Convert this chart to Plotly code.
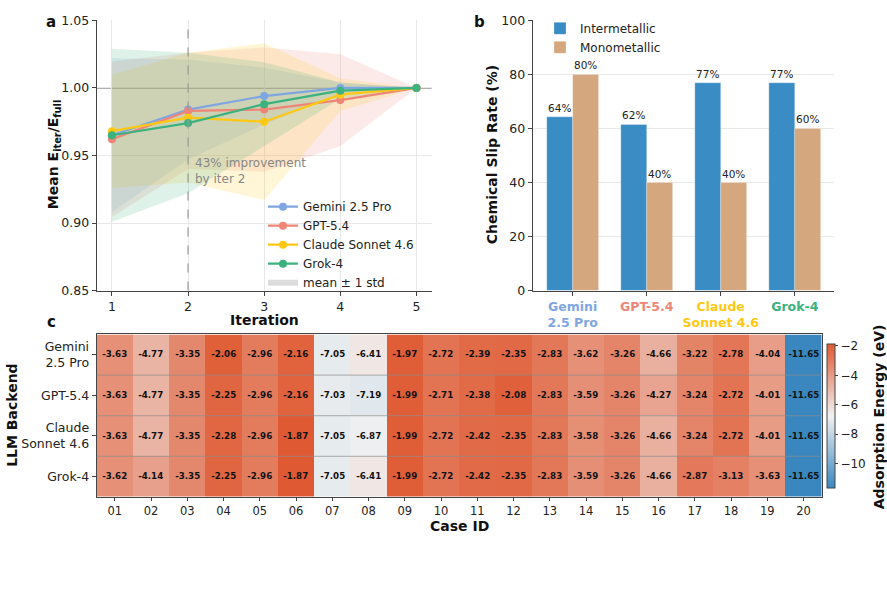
import plotly.graph_objects as go

# ---------------- data ----------------
iterations = [1, 2, 3, 4, 5]
models = ["Gemini 2.5 Pro", "GPT-5.4", "Claude Sonnet 4.6", "Grok-4"]
model_colors = ["#7FA6E2", "#EE8577", "#FFC812", "#3BB27F"]
mean_gemini = [0.965, 0.984, 0.994, 1.000, 1.000]
mean_gpt = [0.962, 0.983, 0.984, 0.991, 1.000]
mean_claude = [0.968, 0.978, 0.975, 0.995, 1.000]
mean_grok = [0.965, 0.974, 0.988, 0.998, 1.000]
std_gemini = [0.057, 0.037, 0.021, 0.004, 0.0]
std_gpt = [0.0575, 0.043, 0.046, 0.034, 0.0]
std_claude = [0.042, 0.048, 0.058, 0.012, 0.0]
std_grok = [0.064, 0.052, 0.031, 0.006, 0.0]

bar_models = ["Gemini<br>2.5 Pro", "GPT-5.4", "Claude<br>Sonnet 4.6", "Grok-4"]
intermetallic = [64.3, 61.5, 76.9, 76.9]
monometallic = [80.0, 40.0, 40.0, 60.0]

case_ids = ["01", "02", "03", "04", "05", "06", "07", "08", "09", "10",
            "11", "12", "13", "14", "15", "16", "17", "18", "19", "20"]
row_labels = ["Gemini<br>2.5 Pro", "GPT-5.4", "Claude<br>Sonnet 4.6", "Grok-4"]
ads_gemini = [-3.63, -4.77, -3.35, -2.06, -2.96, -2.16, -7.05, -6.41, -1.97, -2.72,
              -2.39, -2.35, -2.83, -3.62, -3.26, -4.66, -3.22, -2.78, -4.04, -11.65]
ads_gpt = [-3.63, -4.77, -3.35, -2.25, -2.96, -2.16, -7.03, -7.19, -1.99, -2.71,
           -2.38, -2.08, -2.83, -3.59, -3.26, -4.27, -3.24, -2.72, -4.01, -11.65]
ads_claude = [-3.63, -4.77, -3.35, -2.28, -2.96, -1.87, -7.05, -6.87, -1.99, -2.72,
              -2.42, -2.35, -2.83, -3.58, -3.26, -4.66, -3.24, -2.72, -4.01, -11.65]
ads_grok = [-3.62, -4.14, -3.35, -2.25, -2.96, -1.87, -7.05, -6.41, -1.99, -2.72,
            -2.42, -2.35, -2.83, -3.59, -3.26, -4.66, -2.87, -3.13, -3.63, -11.65]

FONT = "DejaVu Sans"
W, H = 887, 589
def px(x): return x / W
def py(y): return 1 - y / H

def rgba(hexc, a):
    h = hexc.lstrip("#")
    return "rgba(%d,%d,%d,%.2f)" % (int(h[0:2], 16), int(h[2:4], 16), int(h[4:6], 16), a)

fig = go.Figure()

# ---------------- panel a ----------------
means = [mean_gemini, mean_gpt, mean_claude, mean_grok]
stds = [std_gemini, std_gpt, std_claude, std_grok]
for m, s, c in zip(means, stds, model_colors):
    up = [a + b for a, b in zip(m, s)]
    lo = [a - b for a, b in zip(m, s)]
    fig.add_trace(go.Scatter(x=iterations, y=up, mode="lines", line=dict(width=0, color=c),
                             showlegend=False, hoverinfo="skip", xaxis="x", yaxis="y"))
    fig.add_trace(go.Scatter(x=iterations, y=lo, mode="lines", line=dict(width=0, color=c),
                             fill="tonexty", fillcolor=rgba(c, 0.17),
                             showlegend=False, hoverinfo="skip", xaxis="x", yaxis="y"))
for name, m, c in zip(models, means, model_colors):
    fig.add_trace(go.Scatter(x=iterations, y=m, mode="lines+markers", name=name,
                             line=dict(color=c, width=2.2), marker=dict(size=8, color=c),
                             xaxis="x", yaxis="y", legend="legend"))
fig.add_trace(go.Scatter(x=[None], y=[None], mode="none", fill="toself",
                         fillcolor="rgba(170,170,170,0.4)", name="mean ± 1 std",
                         xaxis="x", yaxis="y", legend="legend"))

# ---------------- panel b ----------------
fig.add_trace(go.Bar(x=list(range(4)), y=intermetallic, name="Intermetallic",
                     marker=dict(color="#3A8DC4", line=dict(color="rgba(255,255,255,0.35)", width=0.8)),
                     text=["%d%%" % round(v) for v in intermetallic], textposition="outside",
                     textfont=dict(size=10.5, color="#222"), cliponaxis=False,
                     xaxis="x2", yaxis="y2", legend="legend2"))
fig.add_trace(go.Bar(x=list(range(4)), y=monometallic, name="Monometallic",
                     marker=dict(color="#D4A77E", line=dict(color="rgba(255,255,255,0.35)", width=0.8)),
                     text=["%d%%" % round(v) for v in monometallic], textposition="outside",
                     textfont=dict(size=10.5, color="#222"), cliponaxis=False,
                     xaxis="x2", yaxis="y2", legend="legend2"))

# ---------------- panel c ----------------
z = [ads_gemini, ads_gpt, ads_claude, ads_grok]
txt = [["%.2f" % v for v in row] for row in z]
colorscale = [[0.0, "#3A87C0"], [0.5, "#F1F1F1"], [1.0, "#DF5A33"]]
fig.add_trace(go.Heatmap(z=z, x=list(range(20)), y=list(range(4)), text=txt,
                         texttemplate="%{text}", textfont=dict(size=8.7, color="#111", family=FONT, weight="bold"),
                         colorscale=colorscale, zmin=-11.65, zmax=-1.87,
                         xaxis="x3", yaxis="y3", showscale=True,
                         colorbar=dict(x=px(827.3), xanchor="left", xpad=0, ypad=0, thickness=7.7,
                                       len=(492.3 - 345) / H, lenmode="fraction",
                                       y=py((345 + 492.3) / 2), yanchor="middle",
                                       tickvals=[-2, -4, -6, -8, -10],
                                       ticktext=["−2", "−4", "−6", "−8", "−10"],
                                       ticks="outside", ticklen=3, tickcolor="#444",
                                       tickfont=dict(size=12, color="#222", family=FONT),
                                       outlinecolor="#444", outlinewidth=1)))

axis_common = dict(showline=True, linecolor="#444", linewidth=1.2, ticks="outside",
                   tickcolor="#444", zeroline=False)
tf = dict(size=12.5, color="#222", family=FONT)

fig.update_layout(
    width=W, height=H, margin=dict(l=0, r=0, t=0, b=0),
    paper_bgcolor="white", plot_bgcolor="white",
    font=dict(family=FONT, color="#222"),
    barmode="group", bargap=0.3, bargroupgap=0.0,
    xaxis=dict(domain=[px(96.7), px(431.7)], range=[0.8, 5.2], tickvals=iterations, ticklen=4,
               showgrid=True, gridcolor="#E8E8E8", anchor="y", tickfont=tf, **axis_common),
    yaxis=dict(domain=[py(290), py(12.7)], range=[0.85, 1.05], ticklen=4,
               tickvals=[0.85, 0.90, 0.95, 1.00, 1.05], tickformat=".2f",
               showgrid=True, gridcolor="#E8E8E8", anchor="x", tickfont=tf, **axis_common),
    xaxis2=dict(domain=[px(532.7), px(834)], range=[-0.54, 3.53], tickvals=list(range(4)), ticklen=4,
                ticktext=["<span style='color:%s'><b>%s</b></span>" % (c, t)
                          for c, t in zip(model_colors, bar_models)],
                showgrid=False, anchor="y2", tickfont=tf, **axis_common),
    yaxis2=dict(domain=[py(290), py(12.7)], range=[0, 100], tickvals=[0, 20, 40, 60, 80, 100], ticklen=4,
                showgrid=True, gridcolor="#E8E8E8", anchor="x2", tickfont=tf, **axis_common),
    xaxis3=dict(domain=[px(96.7), px(821.7)], range=[-0.5, 19.5], tickvals=list(range(20)), ticklen=3,
                ticktext=case_ids, showgrid=False, mirror=True, anchor="y3",
                tickfont=dict(size=11.5, color="#222", family=FONT), **axis_common),
    yaxis3=dict(domain=[py(501.7), py(335)], range=[3.5, -0.5], tickvals=list(range(4)), ticklen=4,
                ticktext=row_labels, showgrid=False, mirror=True, anchor="x3", tickfont=tf, **axis_common),
    legend=dict(x=px(263), y=py(189), xanchor="left", yanchor="top", bgcolor="rgba(255,255,255,0)",
                font=dict(size=12, color="#222", family=FONT), itemwidth=30, tracegroupgap=0,
                traceorder="normal"),
    legend2=dict(x=px(540), y=py(6), xanchor="left", yanchor="top", bgcolor="rgba(255,255,255,0)",
                 font=dict(size=12, color="#222", family=FONT), itemwidth=30, traceorder="normal"),
    showlegend=True,
)

# reference lines panel a
fig.add_shape(type="line", xref="x domain", yref="y", x0=0, x1=1, y0=1.0, y1=1.0,
              line=dict(color="#666", width=1.3), layer="below")
fig.add_shape(type="line", xref="x", yref="y domain", x0=2, x1=2, y0=0, y1=1,
              line=dict(color="#999", width=1.2, dash="dash"), layer="above")
# row separators heatmap
for yy in [0.5, 1.5, 2.5]:
    fig.add_shape(type="line", xref="x3 domain", yref="y3", x0=0, x1=1, y0=yy, y1=yy,
                  line=dict(color="rgba(140,140,140,0.55)", width=1.2), layer="above")

ann = []
ann.append(dict(x=2.06, y=0.951, xref="x", yref="y", text="43% improvement<br>by iter 2",
                showarrow=False, xanchor="left", yanchor="top", align="left",
                font=dict(size=12, color="#888", family=FONT)))
title_font = dict(size=14, color="#111", family=FONT, weight="bold")
for t, x, y, ang in [
    ("Mean E<sub>iter</sub>/E<sub>full</sub>", 54, 151, -90),
    ("Iteration", 264, 320, 0),
    ("Chemical Slip Rate (%)", 492, 151, -90),
    ("LLM Backend", 12.5, 418, -90),
    ("Case ID", 459, 532, 0),
    ("Adsorption Energy (eV)", 879, 420, -90),
]:
    ann.append(dict(x=px(x), y=py(y), xref="paper", yref="paper", text=t, showarrow=False,
                    textangle=ang, xanchor="center", yanchor="middle", font=title_font))
for t, x, y in [("a", 51, 14), ("b", 479, 14), ("c", 51, 322)]:
    ann.append(dict(x=px(x), y=py(y), xref="paper", yref="paper", text=t, showarrow=False,
                    xanchor="center", yanchor="middle",
                    font=dict(size=15, color="#111", family=FONT, weight="bold")))
fig.update_layout(annotations=ann)

fig.write_html("out.html")
